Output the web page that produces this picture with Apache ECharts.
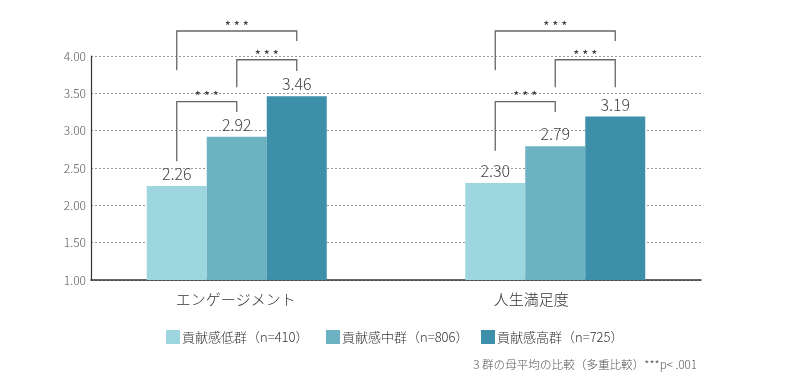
<!DOCTYPE html>
<html>
<head>
<meta charset="utf-8">
<script src="https://cdn.jsdelivr.net/npm/echarts@6/dist/echarts.min.js"></script>
<style>html,body{margin:0;padding:0;background:#fff;}#c{width:790px;height:389px;}</style>
</head>
<body>
<div id="c"></div>
<script>
const categories = ['エンゲージメント', '人生満足度'];
const seriesNames = ['貢献感低群（n=410）', '貢献感中群（n=806）', '貢献感高群（n=725）'];
const lowValues = [2.26, 2.30];
const midValues = [2.92, 2.79];
const highValues = [3.46, 3.19];
const yTicks = [1.00, 1.50, 2.00, 2.50, 3.00, 3.50, 4.00];
// brackets: [categoryIndex, fromBar, toBar, leftBottom, top, rightBottom]
const brackets = [
  [0, 0, 1, 2.59, 3.39, 3.25],
  [0, 1, 2, 3.58, 3.95, 3.80],
  [0, 0, 2, 3.81, 4.335, 4.20],
  [1, 0, 1, 2.73, 3.39, 3.25],
  [1, 1, 2, 3.58, 3.95, 3.58],
  [1, 0, 2, 3.81, 4.335, 4.20]
];
const sigLabel = '* * *';
const footnote = '3 群の母平均の比較（多重比較）***p< .001';

const FONT = '"Noto Sans CJK JP", "Noto Sans", sans-serif';
const colors = ['#9ed6df', '#6cb2c2', '#3e90aa'];
const BAR_W = 60;

const chart = echarts.init(document.getElementById('c'), null, {renderer: 'canvas'});
const yMin = yTicks[0], yMax = yTicks[yTicks.length - 1];

function barSeries(name, data, i) {
  return {
    name: name, type: 'bar', xAxisIndex: 1, yAxisIndex: 1,
    data: data, barWidth: BAR_W, barGap: '0%',
    itemStyle: {color: colors[i]},
    label: {show: true, position: 'top', distance: 4, fontSize: 16, fontFamily: FONT, fontWeight: 300, color: '#444',
      formatter: p => p.value.toFixed(2)},
    emphasis: {disabled: true}
  };
}

const option = {
  animation: false,
  textStyle: {fontFamily: FONT},
  title: {text: footnote, right: 88, top: 354,
    textStyle: {fontSize: 11.6, fontWeight: 300, color: '#555', fontFamily: FONT}},
  legend: seriesNames.map((n, i) => ({
    data: [n], left: [161, 321, 476][i], top: 325, itemWidth: 14, itemHeight: 14, icon: 'rect',
    selectedMode: false, itemGap: 0,
    textStyle: {fontSize: 13, color: '#333', fontFamily: FONT, fontWeight: 300, padding: [0, 0, 0, -3]}
  })),
  grid: [
    {left: 91, top: 56, width: 610, height: 224},
    {left: 77.5, top: 56, width: 637, height: 224},
    {left: 88, top: 56, width: 591, height: 224}
  ],
  xAxis: [
    {gridIndex: 0, type: 'category', data: categories, axisLine: {lineStyle: {color: '#333', width: 1.5}},
      axisTick: {show: false}, axisLabel: {show: false}},
    {gridIndex: 1, type: 'category', data: categories, axisLine: {show: false}, axisTick: {show: false}, axisLabel: {show: false}},
    {gridIndex: 2, type: 'category', data: categories, axisLine: {show: false}, axisTick: {show: false},
      axisLabel: {show: true, margin: 12, fontSize: 15, color: '#333', fontFamily: FONT, fontWeight: 300}}
  ],
  yAxis: [
    {gridIndex: 0, type: 'value', min: yMin, max: yMax, interval: 0.5,
      axisLine: {show: true, lineStyle: {color: '#333', width: 1.2}}, axisTick: {show: false},
      axisLabel: {fontSize: 12, color: '#555', margin: 5, fontFamily: FONT, fontWeight: 300, formatter: v => v.toFixed(2)},
      splitLine: {show: true, lineStyle: {color: '#999', type: [2, 2], width: 1}}},
    {gridIndex: 1, type: 'value', min: yMin, max: yMax, show: false, splitLine: {show: false}},
    {gridIndex: 2, type: 'value', min: yMin, max: yMax, show: false, splitLine: {show: false}}
  ],
  series: [
    barSeries(seriesNames[0], lowValues, 0),
    barSeries(seriesNames[1], midValues, 1),
    barSeries(seriesNames[2], highValues, 2),
    {
      type: 'custom', xAxisIndex: 1, yAxisIndex: 1, data: brackets, clip: false, silent: true,
      encode: {x: 0, y: 4},
      renderItem: function (params, api) {
        const c = api.value(0);
        const xc = api.coord([c, yMin])[0];
        const x1 = xc + (api.value(1) - 1) * BAR_W;
        const x2 = xc + (api.value(2) - 1) * BAR_W;
        const yL = api.coord([c, api.value(3)])[1];
        const yT = api.coord([c, api.value(4)])[1];
        const yR = api.coord([c, api.value(5)])[1];
        return {type: 'group', children: [
          {type: 'polyline', shape: {points: [[x1, yL], [x1, yT], [x2, yT], [x2, yR]]},
            style: {stroke: '#666', lineWidth: 1.3, fill: null}},
          {type: 'text', x: (x1 + x2) / 2, y: yT - 5,
            style: {text: sigLabel, align: 'center', verticalAlign: 'middle', fontSize: 13, fill: '#333', fontFamily: FONT}}
        ]};
      }
    }
  ]
};
chart.setOption(option);
</script>
</body>
</html>
